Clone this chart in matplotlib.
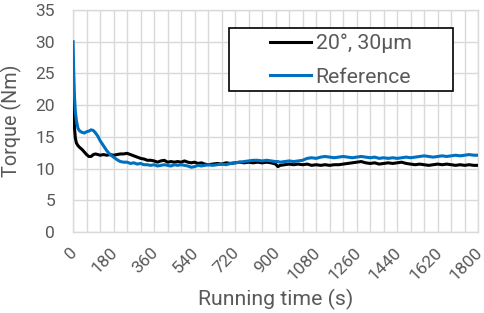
import matplotlib
matplotlib.use("Agg")
import matplotlib.pyplot as plt
from matplotlib.ticker import MultipleLocator
from matplotlib.patches import Rectangle
from matplotlib.transforms import ScaledTranslation

plt.rcParams['font.family'] = ['Roboto', 'DejaVu Sans']

time_s = [0, 3, 6, 10, 15, 22, 30, 40, 50, 60, 70, 80, 90, 100, 110, 120, 135, 150, 165, 180,
          195, 210, 225, 240, 255, 270, 285, 300, 315, 330, 345, 360, 375, 390, 405, 420, 435,
          450, 465, 480, 495, 510, 525, 540, 555, 570, 585, 600, 620, 640, 660, 680, 700, 720,
          740, 760, 780, 800, 820, 840, 860, 880, 900, 910, 920, 940, 960, 980, 1000, 1020,
          1040, 1060, 1080, 1100, 1120, 1140, 1160, 1180, 1200, 1220, 1240, 1260, 1280, 1300,
          1320, 1340, 1360, 1380, 1400, 1420, 1440, 1460, 1480, 1500, 1520, 1540, 1560, 1580,
          1600, 1620, 1640, 1660, 1680, 1700, 1720, 1740, 1760, 1780, 1800]

torque_20deg = [26.8, 20.0, 16.5, 14.8, 14.0, 13.6, 13.3, 13.0, 12.6, 12.2, 11.9, 11.9, 12.2,
                12.3, 12.2, 12.1, 12.2, 12.1, 12.2, 12.1, 12.2, 12.3, 12.3, 12.4, 12.2, 12.0,
                11.8, 11.6, 11.5, 11.3, 11.3, 11.2, 11.0, 11.2, 11.3, 11.0, 11.1, 11.0, 11.1,
                11.0, 11.2, 11.0, 10.9, 11.0, 10.8, 10.9, 10.7, 10.6, 10.7, 10.8, 10.7, 10.9,
                10.8, 10.9, 11.0, 10.9, 11.0, 10.9, 11.0, 10.9, 11.0, 10.9, 10.7, 10.3, 10.5,
                10.6, 10.7, 10.6, 10.7, 10.6, 10.7, 10.5, 10.6, 10.5, 10.6, 10.5, 10.6, 10.6,
                10.7, 10.8, 10.9, 11.0, 11.1, 10.9, 10.8, 10.9, 10.7, 10.8, 10.9, 10.8, 10.9,
                11.0, 10.8, 10.7, 10.6, 10.7, 10.6, 10.5, 10.6, 10.7, 10.6, 10.7, 10.6, 10.5,
                10.6, 10.5, 10.6, 10.5, 10.5]

torque_reference = [30.0, 25.0, 21.5, 19.0, 17.5, 16.3, 15.9, 15.7, 15.6, 15.8, 15.9, 16.1, 16.0,
                    15.6, 15.1, 14.4, 13.6, 12.8, 12.2, 11.8, 11.4, 11.1, 11.0, 11.0, 10.8, 10.9,
                    10.7, 10.8, 10.6, 10.6, 10.5, 10.6, 10.4, 10.5, 10.6, 10.5, 10.4, 10.6, 10.5,
                    10.6, 10.5, 10.4, 10.2, 10.3, 10.5, 10.4, 10.5, 10.6, 10.5, 10.6, 10.7, 10.6,
                    10.8, 10.9, 11.0, 11.1, 11.2, 11.3, 11.3, 11.2, 11.3, 11.2, 11.1, 11.1, 11.0,
                    11.1, 11.2, 11.1, 11.2, 11.3, 11.6, 11.7, 11.6, 11.8, 11.9, 11.8, 11.7, 11.8,
                    11.9, 11.8, 11.7, 11.8, 11.9, 11.8, 11.7, 11.8, 11.6, 11.7, 11.6, 11.7, 11.6,
                    11.7, 11.8, 11.7, 11.8, 11.9, 12.0, 11.9, 11.8, 11.9, 12.0, 11.9, 12.0, 12.1,
                    12.0, 12.1, 12.2, 12.1, 12.1]

series_labels = ["20°, 30μm", "Reference"]
x_ticks = list(range(0, 1801, 180))
y_ticks = list(range(0, 36, 5))

text_color = "#595959"
grid_color = "#D9D9D9"

fig = plt.figure(figsize=(4.84, 3.13), dpi=100)
ax = fig.add_axes([0.151, 0.259, 0.837, 0.709])

ax.plot(time_s, torque_20deg, color="black", lw=2.2, label=series_labels[0], zorder=3)
ax.plot(time_s, torque_reference, color="#0070C0", lw=2.2, label=series_labels[1], zorder=3)

ax.set_xlim(0, 1800)
ax.set_ylim(0, 35)
ax.set_xticks(x_ticks)
ax.set_yticks(y_ticks)
ax.xaxis.set_minor_locator(MultipleLocator(60))
ax.grid(True, which="both", axis="x", color=grid_color, lw=1.0)
ax.grid(True, which="major", axis="y", color=grid_color, lw=1.0)
ax.set_axisbelow(True)
for s in ax.spines.values():
    s.set_color(grid_color)
    s.set_linewidth(1.0)
ax.tick_params(which="both", length=0, colors=text_color, labelsize=12.5)
ax.tick_params(axis="y", pad=13)
ax.tick_params(axis="x", pad=13)
shift = ScaledTranslation(2 / 100, 0, fig.dpi_scale_trans)
for lbl in ax.get_xticklabels():
    lbl.set_rotation(45)
    lbl.set_ha("right")
    lbl.set_va("center")
    lbl.set_rotation_mode("anchor")
    lbl.set_transform(lbl.get_transform() + shift)

ax.set_xlabel("Running time (s)", color=text_color, fontsize=15.3, labelpad=4)
ax.set_ylabel("Torque (Nm)", color=text_color, fontsize=14.2)
ax.yaxis.set_label_coords(-0.126, 0.5)

# legend box (Excel-style, wider than its entries)
ax.add_patch(Rectangle((0.385, 0.635), 0.553, 0.284, transform=ax.transAxes,
                       facecolor="white", edgecolor="black", lw=1.2, zorder=4))
leg = ax.legend(loc="upper left", bbox_to_anchor=(0.487, 0.893), fontsize=15.3,
                frameon=False, handlelength=1.93, handletextpad=0.2, borderpad=0,
                labelspacing=0.68, borderaxespad=0)
leg.set_zorder(5)
for t in leg.get_texts():
    t.set_color(text_color)

fig.savefig("out.png", dpi=100)
